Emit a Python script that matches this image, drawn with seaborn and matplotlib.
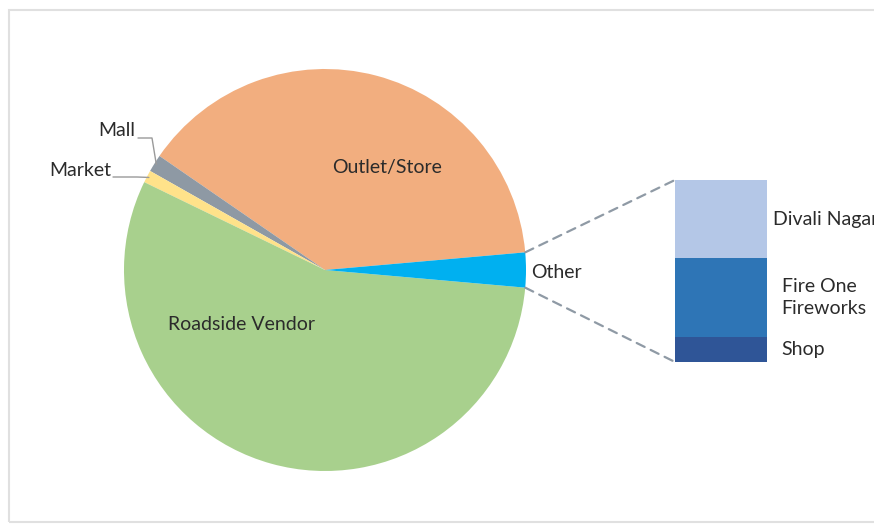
import matplotlib
matplotlib.use("Agg")
import matplotlib.pyplot as plt
import matplotlib.patheffects as pe
from matplotlib.patches import ConnectionPatch, Rectangle
import numpy as np
import seaborn as sns

# Dados (em %)
pie_labels = ['Outlet/Store', 'Mall', 'Market', 'Roadside Vendor', 'Other']
pie_values = [39.0, 1.4, 1.0, 55.8, 2.8]
pie_colors = ['#F2AE7F', '#8E99A4', '#FFE28A', '#A8D08D', '#00B0F0']

other_labels = ['Shop', 'Fire One\nFireworks', 'Divali Nagar']
other_values = [14, 43, 43]
other_colors = ['#2F5597', '#2E75B6', '#B4C7E7']

sns.set_theme(style="white")
plt.rcParams['font.family'] = ['Lato', 'DejaVu Sans']
FS = 14
TXT = '#2b2b2b'

W, H = 874, 525
fig = plt.figure(figsize=(W / 100, H / 100), dpi=100)

# moldura clara (aberta à direita, como no original)
fig.add_artist(Rectangle((9 / W, 3 / H), 1.2, (H - 13) / H, transform=fig.transFigure,
                         fill=False, edgecolor='#e0e0e0', linewidth=1.5))

# --- PIZZA ---
cx, cy, r = 325, 270, 201
ax_pie = fig.add_axes([(cx - r) / W, (H - cy - r) / H, 2 * r / W, 2 * r / H])
start = pie_values[-1] / 2 * 3.6
wedges, _ = ax_pie.pie(pie_values, colors=pie_colors, startangle=start,
                       counterclock=True, wedgeprops=dict(linewidth=0))
ax_pie.set_xlim(-1, 1)
ax_pie.set_ylim(-1, 1)
ax_pie.set_aspect('equal')

def px(x, y):
    return ((x - cx) / r, (cy - y) / r)

ax_pie.text(*px(387, 168), 'Outlet/Store', ha='center', va='center', fontsize=FS, color=TXT)
ax_pie.text(*px(241, 324), 'Roadside Vendor', ha='center', va='center', fontsize=FS, color=TXT)
ax_pie.text(*px(531, 272), 'Other', ha='left', va='center', fontsize=FS, color=TXT)
ax_pie.text(*px(117, 131), 'Mall', ha='center', va='center', fontsize=FS, color=TXT)
ax_pie.text(*px(80, 171), 'Market', ha='center', va='center', fontsize=FS, color=TXT)

# linhas de chamada para as fatias pequenas
for w, (x0, y0), xk in [(wedges[1], (138, 138), 152), (wedges[2], (113, 177), 137)]:
    mid = np.deg2rad((w.theta1 + w.theta2) / 2)
    ex, ey = 0.99 * np.cos(mid), 0.99 * np.sin(mid)
    sx, sy = px(x0, y0)
    kx, _ = px(xk, y0)
    ax_pie.plot([sx, kx, ex], [sy, sy, ey], color='#9a9a9a', lw=1, clip_on=False)

# --- BARRA EMPILHADA ---
bx0, bx1, by0, by1 = 675, 767, 180, 362
ax_bar = fig.add_axes([bx0 / W, (H - by1) / H, (bx1 - bx0) / W, (by1 - by0) / H])
total = sum(other_values)
bottom = 0
for i, (lab, val, col) in enumerate(zip(other_labels, other_values, other_colors)):
    ax_bar.bar(0, val, width=1, bottom=bottom, color=col, linewidth=0, zorder=10 - i,
               path_effects=[pe.SimplePatchShadow(offset=(1.5, -1.5), alpha=0.22), pe.Normal()])
    off = 4 if lab == 'Divali Nagar' else 10.5
    ax_bar.annotate(lab, xy=(0.5, bottom + val / 2), xytext=(off, 0),
                    textcoords='offset points', ha='left', va='center',
                    fontsize=FS, color=TXT, linespacing=1.4, annotation_clip=False)
    bottom += val
ax_bar.set_xlim(-0.5, 0.5)
ax_bar.set_ylim(0, total)
ax_bar.axis('off')

# --- CONECTORES ---
ow = wedges[-1]
for ang, yb in [(ow.theta2, total), (ow.theta1, 0)]:
    t = np.deg2rad(ang)
    con = ConnectionPatch(xyA=(np.cos(t), np.sin(t)), coordsA=ax_pie.transData,
                          xyB=(-0.5, yb), coordsB=ax_bar.transData,
                          color='#8f9aa5', linewidth=1.6, linestyle=(0, (4, 3)))
    fig.add_artist(con)

plt.savefig('out.png', dpi=100)
